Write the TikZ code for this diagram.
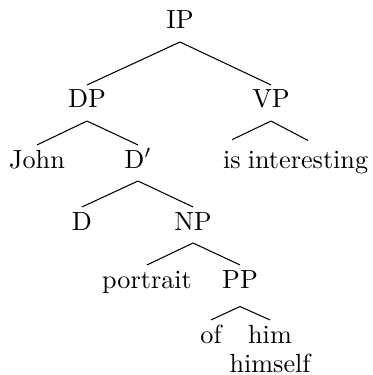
\documentclass[tikz,border=0pt]{standalone}
\usepackage{tikz}

\begin{document}
\begin{tikzpicture}[x=0.3817pt,y=-0.3817pt,
  cat/.style={anchor=base,inner xsep=0pt,inner ysep=2pt,text height=6.6pt,text depth=2.77pt},
  branch/.style={line width=0.4pt}]
 \useasboundingbox (0,0) rectangle (372,375);
 % categories and words
 \node[cat] (IP) at (180,29) {IP};
 \node[cat] (DP) at (87,108) {DP};
 \node[cat] (VP) at (271,108) {VP};
 \node[cat] (John) at (37,168) {John};
 \node[cat] (Dbar) at (138,168) {D$'$};
 \node[cat] (is) at (232,168) {is};
 \node[cat] (interesting) at (308,168) {interesting};
 \node[cat] (D) at (82,230) {D};
 \node[cat] (NP) at (193,230) {NP};
 \node[cat] (portrait) at (147,288) {portrait};
 \node[cat] (PP) at (240,288) {PP};
 \node[cat] (of) at (211,343) {of};
 \node[cat] (him) at (270,343) {\begin{tabular}[t]{@{}c@{}}him\\[-0.7pt]himself\end{tabular}};
 % branches
 \draw[branch] (IP.south) -- (DP.north);
 \draw[branch] (IP.south) -- (VP.north);
 \draw[branch] (DP.south) -- (John.north);
 \draw[branch] (DP.south) -- (Dbar.north);
 \draw[branch] (VP.south) -- ([yshift=2pt]is.north);
 \draw[branch] (VP.south) -- ([yshift=1.7pt]interesting.north);
 \draw[branch] (Dbar.south) -- (D.north);
 \draw[branch] (Dbar.south) -- (NP.north);
 \draw[branch] (NP.south) -- (portrait.north);
 \draw[branch] (NP.south) -- (PP.north);
 \draw[branch] ([yshift=-2.1pt]PP.south) -- (of.north);
 \draw[branch] ([yshift=-2.1pt]PP.south) -- (him.north);
\end{tikzpicture}
\end{document}
